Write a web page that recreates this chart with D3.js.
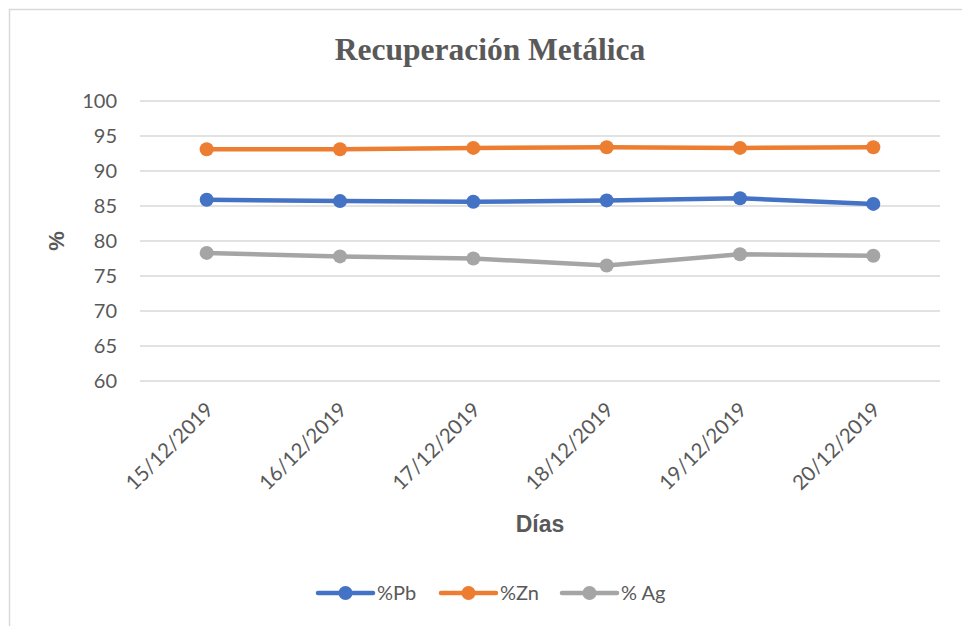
<!DOCTYPE html>
<html>
<head>
<meta charset="utf-8">
<script src="https://cdn.jsdelivr.net/npm/d3@7"></script>
<style>
  html, body { margin: 0; padding: 0; background: #fff; }
  svg { display: block; }
</style>
</head>
<body>
<svg id="chart" width="962" height="626"></svg>
<script>
const categories = ["15/12/2019", "16/12/2019", "17/12/2019", "18/12/2019", "19/12/2019", "20/12/2019"];
const pb = [85.9, 85.7, 85.6, 85.8, 86.1, 85.3];
const zn = [93.1, 93.1, 93.3, 93.4, 93.3, 93.4];
const ag = [78.3, 77.8, 77.5, 76.5, 78.1, 77.9];
const seriesNames = ["%Pb", "%Zn", "% Ag"];
const seriesColors = ["#4472C4", "#ED7D31", "#A5A5A5"];
const yTicks = [60, 65, 70, 75, 80, 85, 90, 95, 100];

const series = [pb, zn, ag].map((vals, i) => ({ name: seriesNames[i], color: seriesColors[i], values: vals }));

const svg = d3.select("#chart");
const W = 962, H = 626;
const plot = { left: 140, right: 940, top: 101, bottom: 381 };

// outer frame (top and left edges visible)
svg.append("line").attr("x1", 9).attr("x2", W).attr("y1", 9.5).attr("y2", 9.5)
  .attr("stroke", "#d9d9d9").attr("stroke-width", 1.5);
svg.append("line").attr("x1", 9.5).attr("x2", 9.5).attr("y1", 9).attr("y2", H)
  .attr("stroke", "#d9d9d9").attr("stroke-width", 1.5);

const x = d3.scaleBand().domain(categories).range([plot.left, plot.right]);
const y = d3.scaleLinear().domain([60, 100]).range([plot.bottom, plot.top]);

// gridlines
svg.append("g").selectAll("line").data(yTicks).join("line")
  .attr("x1", plot.left).attr("x2", plot.right)
  .attr("y1", d => y(d)).attr("y2", d => y(d))
  .attr("stroke", "#d9d9d9").attr("stroke-width", 1.5);

// y axis
const yAxis = svg.append("g").attr("transform", `translate(${plot.left},0)`)
  .call(d3.axisLeft(y).tickValues(yTicks).tickSize(0).tickPadding(23));
yAxis.select(".domain").remove();
yAxis.selectAll("text").attr("font-family", "Lato, 'Open Sans', sans-serif")
  .attr("font-size", 20).attr("fill", "#595959");

// x axis
const xAxis = svg.append("g").attr("transform", `translate(0,${plot.bottom})`)
  .call(d3.axisBottom(x).tickSize(0));
xAxis.select(".domain").remove();
xAxis.selectAll("text")
  .attr("font-family", "Lato, 'Open Sans', sans-serif")
  .attr("font-size", 20.5).attr("fill", "#595959")
  .attr("text-anchor", "end")
  .attr("dy", 0)
  .attr("y", 0)
  .attr("transform", "translate(8,30) rotate(-45)");

// lines
const line = d3.line().x((d, i) => x(categories[i]) + x.bandwidth() / 2).y(d => y(d));
const g = svg.append("g");
series.forEach(s => {
  g.append("path").datum(s.values).attr("d", line)
    .attr("fill", "none").attr("stroke", s.color).attr("stroke-width", 4.5)
    .attr("stroke-linejoin", "round").attr("stroke-linecap", "round");
  g.selectAll(null).data(s.values).join("circle")
    .attr("cx", (d, i) => x(categories[i]) + x.bandwidth() / 2)
    .attr("cy", d => y(d)).attr("r", 7).attr("fill", s.color);
});

// title
svg.append("text").attr("x", 490).attr("y", 60).attr("text-anchor", "middle")
  .attr("font-family", "'Liberation Serif', 'Times New Roman', serif")
  .attr("font-weight", "bold").attr("font-size", 31.5).attr("fill", "#595959")
  .text("Recuperación Metálica");

// axis titles
svg.append("text").attr("transform", "translate(64,241) rotate(-90)").attr("text-anchor", "middle")
  .attr("font-family", "'Liberation Sans', Arial, sans-serif").attr("font-weight", "bold")
  .attr("font-size", 22).attr("fill", "#595959").text("%");
svg.append("text").attr("x", 540).attr("y", 532).attr("text-anchor", "middle")
  .attr("font-family", "'Liberation Sans', Arial, sans-serif").attr("font-weight", "bold")
  .attr("font-size", 23).attr("fill", "#595959").text("Días");

// legend
const legendX = [318, 441, 562];
const lg = svg.append("g");
series.forEach((s, i) => {
  const lx = legendX[i], ly = 593;
  lg.append("line").attr("x1", lx).attr("x2", lx + 55).attr("y1", ly).attr("y2", ly)
    .attr("stroke", s.color).attr("stroke-width", 4.5).attr("stroke-linecap", "round");
  lg.append("circle").attr("cx", lx + 27.5).attr("cy", ly).attr("r", 7).attr("fill", s.color);
  lg.append("text").attr("x", lx + 59).attr("y", ly + 7)
    .attr("font-family", "Lato, 'Open Sans', sans-serif").attr("font-size", 20).attr("fill", "#595959")
    .text(s.name);
});
</script>
</body>
</html>
